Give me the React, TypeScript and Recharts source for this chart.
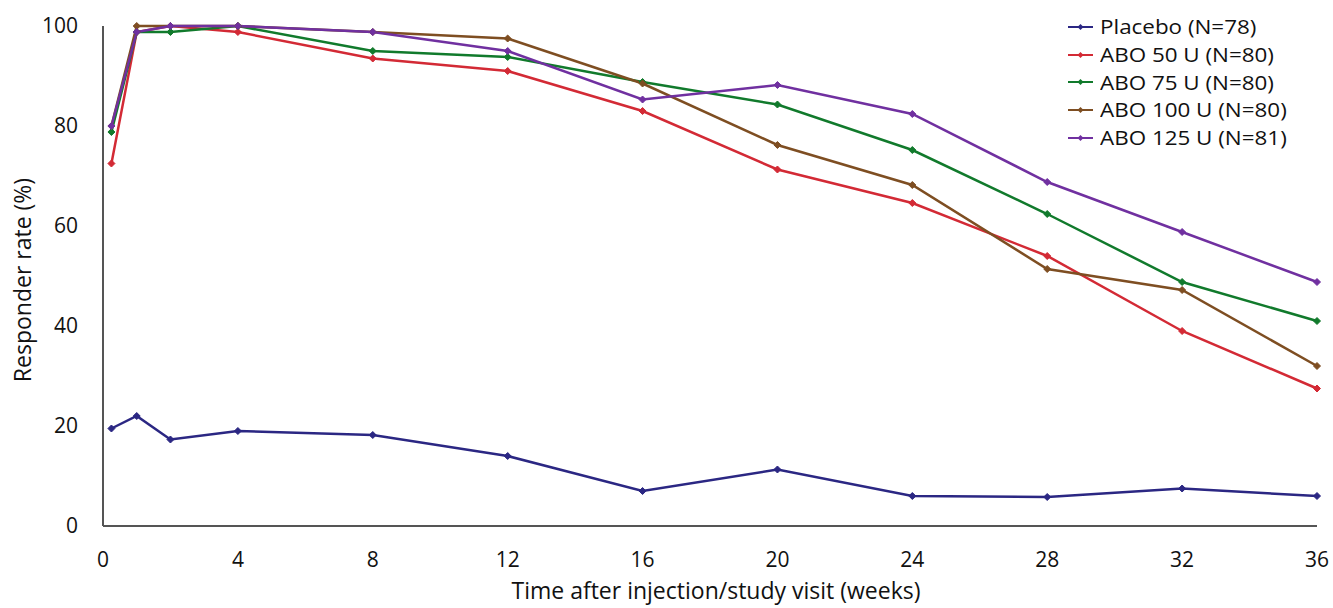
import React from "react";
import { LineChart, Line, XAxis, YAxis } from "recharts";

const weeks = [0.25, 1, 2, 4, 8, 12, 16, 20, 24, 28, 32, 36];
const placebo = [19.5, 22, 17.3, 19, 18.2, 14, 7, 11.3, 6, 5.8, 7.5, 6];
const abo50 = [72.5, 98.8, 100, 98.8, 93.5, 91, 83, 71.3, 64.6, 54, 39, 27.5];
const abo75 = [78.8, 98.8, 98.8, 100, 95, 93.8, 88.8, 84.3, 75.2, 62.4, 48.8, 41];
const abo100 = [80, 100, 100, 100, 98.8, 97.5, 88.5, 76.2, 68.2, 51.4, 47.2, 32];
const abo125 = [80, 98.8, 100, 100, 98.8, 95, 85.3, 88.2, 82.4, 68.8, 58.8, 48.8];

const xTicks = [0, 4, 8, 12, 16, 20, 24, 28, 32, 36];
const yTicks = [0, 20, 40, 60, 80, 100];

const seriesNames = [
  "Placebo (N=78)",
  "ABO 50 U (N=80)",
  "ABO 75 U (N=80)",
  "ABO 100 U (N=80)",
  "ABO 125 U (N=81)",
];
const seriesKeys = ["placebo", "abo50", "abo75", "abo100", "abo125"];
const seriesValues = [placebo, abo50, abo75, abo100, abo125];
const colors = ["#2b2783", "#d32a35", "#117a2c", "#7e4e22", "#7030a0"];

const data = weeks.map((w, i) => {
  const row: Record<string, number> = { week: w };
  seriesKeys.forEach((k, j) => {
    row[k] = seriesValues[j][i];
  });
  return row;
});

const FONT = "'Open Sans', sans-serif";

const Diamond = (color: string) => (props: any) => {
  const { cx, cy } = props;
  if (cx == null || cy == null) return null;
  const r = 3.5;
  return (
    <polygon
      key={`${cx}-${cy}`}
      points={`${cx},${cy - r} ${cx + r},${cy} ${cx},${cy + r} ${cx - r},${cy}`}
      fill={color}
      stroke={color}
      strokeWidth={1}
    />
  );
};

const YLabel = () => (
  <text
    x={22}
    y={280}
    transform="rotate(-90, 22, 280)"
    textAnchor="middle"
    dominantBaseline="central"
    fontFamily={FONT}
    fontSize={23}
    fill="#111"
  >
    Responder rate (%)
  </text>
);

const XLabel = () => (
  <text
    x={716}
    y={599}
    textAnchor="middle"
    fontFamily={FONT}
    fontSize={23}
    fill="#111"
  >
    Time after injection/study visit (weeks)
  </text>
);

export default function App() {
  return (
    <div style={{ position: "absolute", left: 0, top: 0, width: 1333, height: 608, background: "#fff" }}>
      <LineChart
        width={1333}
        height={608}
        data={data}
        margin={{ top: 26, right: 16, bottom: 0, left: 0 }}
      >
        <XAxis
          dataKey="week"
          type="number"
          domain={[0, 36]}
          ticks={xTicks}
          tickLine={false}
          tickSize={0}
          axisLine={{ stroke: "#555", strokeWidth: 2 }}
          tick={{ fontFamily: FONT, fontSize: 21, fill: "#111" }}
          tickMargin={26}
          height={82}
          label={<XLabel />}
        />
        <YAxis
          type="number"
          domain={[0, 100]}
          ticks={yTicks}
          tickLine={false}
          tickSize={0}
          axisLine={{ stroke: "#555", strokeWidth: 2 }}
          tick={{ fontFamily: FONT, fontSize: 21, fill: "#111" }}
          tickMargin={25}
          width={103}
          label={<YLabel />}
        />
        {seriesKeys.map((k, j) => (
          <Line
            key={k}
            type="linear"
            dataKey={k}
            name={seriesNames[j]}
            stroke={colors[j]}
            strokeWidth={2.5}
            dot={Diamond(colors[j])}
            activeDot={false}
            isAnimationActive={false}
          />
        ))}
      </LineChart>
      <div
        style={{
          position: "absolute",
          left: 1068,
          top: 13,
          fontFamily: FONT,
          fontSize: 20,
          color: "#111",
          lineHeight: "27.75px",
        }}
      >
        {seriesNames.map((n, j) => (
          <div key={n} style={{ display: "flex", alignItems: "center", whiteSpace: "nowrap", height: 27.75 }}>
            <svg width={25} height={12} style={{ marginRight: 7 }}>
              <line x1={0} y1={6} x2={25} y2={6} stroke={colors[j]} strokeWidth={2} />
              <polygon points="12.5,3 15.5,6 12.5,9 9.5,6" fill={colors[j]} />
            </svg>
            <span style={{ display: "inline-block", transform: "scaleX(1.12)", transformOrigin: "left center" }}>{n}</span>
          </div>
        ))}
      </div>
    </div>
  );
}
